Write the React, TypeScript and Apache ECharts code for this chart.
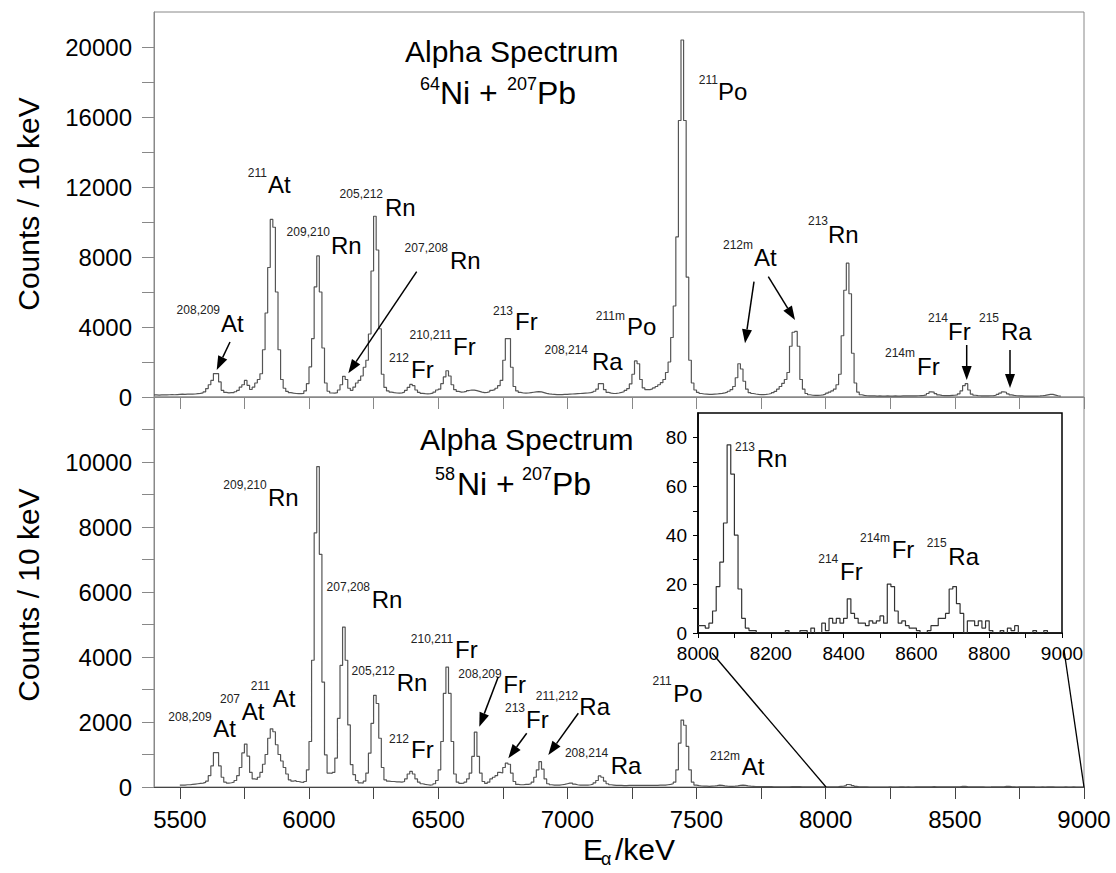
import React, { useEffect, useRef } from 'react';
import * as echarts from 'echarts';

// ---------------- data (counts per 10 keV bin) ----------------
const BIN = 10;

// 64Ni + 207Pb, bins starting at 5400 keV
const topStart = 5400;
const topCounts = [
  120, 110, 120, 130, 120, 130, 140, 130, 140, 150, // 5400
  160, 150, 160, 170, 160, 170, 190, 210, 240, 290, // 5500
  480, 700, 950, 1340, 1340, 860, 380, 260, 240, 250, // 5600
  250, 300, 380, 570, 700, 950, 670, 430, 560, 800, // 5700
  1000, 1330, 2700, 4800, 7400, 10150, 9700, 6000, 2700, 1000, // 5800
  500, 320, 250, 220, 200, 190, 190, 200, 350, 760, // 5900
  1720, 3340, 6290, 8060, 6000, 2800, 800, 330, 230, 220, // 6000
  250, 400, 700, 1180, 1000, 500, 380, 570, 800, 950, // 6100
  1200, 1700, 2100, 3600, 7200, 10330, 8400, 3900, 1300, 550, // 6200
  350, 280, 250, 230, 220, 240, 280, 380, 550, 720, // 6300
  650, 400, 260, 210, 190, 180, 190, 220, 280, 400, // 6400
  450, 760, 1150, 1500, 1200, 700, 420, 320, 280, 290, // 6500
  320, 370, 400, 390, 360, 320, 280, 250, 260, 300, // 6600
  380, 420, 500, 650, 950, 2100, 3340, 3340, 1700, 600, // 6700
  350, 260, 230, 220, 230, 250, 270, 290, 310, 290, // 6800
  250, 210, 180, 160, 150, 140, 140, 140, 150, 150, // 6900
  160, 170, 180, 190, 200, 210, 220, 230, 250, 280, // 7000
  330, 450, 760, 760, 420, 260, 220, 200, 210, 230, // 7100
  260, 300, 380, 480, 750, 1300, 2060, 1900, 1000, 520, // 7200
  420, 420, 460, 520, 600, 700, 820, 1000, 1400, 2000, // 7300
  3400, 5200, 9150, 15800, 20400, 15800, 6850, 2100, 800, 400, // 7400
  260, 200, 170, 160, 150, 150, 160, 170, 190, 210, // 7500
  240, 280, 330, 420, 600, 1100, 1900, 1600, 900, 450, // 7600
  250, 200, 170, 150, 140, 140, 150, 170, 200, 250, // 7700
  320, 450, 600, 780, 1000, 1400, 2900, 3700, 3750, 2900, // 7800
  1000, 450, 200, 130, 100, 90, 90, 100, 120, 160, // 7900
  220, 280, 350, 450, 700, 1300, 3500, 6100, 7650, 5900, // 8000
  2500, 800, 280, 130, 90, 70, 65, 60, 60, 55, // 8100
  60, 55, 55, 60, 55, 55, 60, 55, 55, 60, // 8200
  60, 60, 60, 65, 65, 70, 80, 90, 120, 200, // 8300
  290, 280, 190, 120, 90, 80, 80, 80, 90, 100, // 8400
  120, 180, 350, 650, 760, 400, 170, 100, 80, 70, // 8500
  70, 65, 65, 70, 80, 100, 150, 220, 290, 270, // 8600
  180, 120, 90, 70, 60, 60, 55, 55, 50, 50, // 8700
  55, 55, 60, 70, 90, 120, 150, 150, 110, 70, // 8800
  50, // 8900
];

// 58Ni + 207Pb, bins starting at 5500 keV (up to 7990)
const bottomStart = 5500;
const bottomCounts = [
  60, 60, 70, 70, 80, 90, 100, 110, 120, 140, // 5500
  180, 350, 650, 1060, 1060, 650, 300, 150, 120, 130, // 5600
  150, 200, 350, 600, 1050, 1320, 950, 450, 250, 230, // 5700
  300, 450, 700, 1000, 1500, 1790, 1700, 1300, 1000, 800, // 5800
  600, 400, 220, 180, 200, 170, 150, 140, 170, 530, // 5900
  1400, 3900, 7820, 9860, 7160, 3230, 990, 430, 420, 450, // 6000
  890, 2110, 3740, 4920, 3900, 1910, 690, 380, 200, 130, // 6100
  120, 180, 430, 1040, 1960, 2820, 2570, 1500, 600, 220, // 6200
  180, 170, 170, 160, 160, 150, 170, 250, 400, 480, // 6300
  400, 250, 150, 100, 80, 70, 60, 70, 100, 200, // 6400
  530, 1400, 2880, 3690, 2880, 1400, 400, 150, 110, 120, // 6500
  150, 250, 430, 940, 1690, 940, 430, 170, 110, 150, // 6600
  250, 300, 350, 450, 430, 600, 735, 700, 430, 170, // 6700
  80, 70, 70, 80, 80, 100, 150, 300, 530, 780, // 6800
  550, 250, 100, 70, 60, 60, 60, 70, 80, 100, // 6900
  120, 120, 90, 70, 60, 60, 60, 60, 70, 90, // 7000
  130, 200, 340, 300, 180, 100, 70, 60, 50, 50, // 7100
  50, 45, 45, 50, 50, 50, 50, 50, 50, 50, // 7200
  50, 50, 50, 50, 50, 55, 60, 60, 70, 80, // 7300
  100, 150, 530, 1350, 2060, 1900, 1250, 530, 150, 60, // 7400
  40, 30, 25, 25, 20, 25, 30, 40, 55, 50, // 7500
  35, 25, 20, 20, 25, 35, 50, 60, 50, 35, // 7600
  25, 20, 15, 15, 12, 12, 10, 10, 10, 8, // 7700
  8, 8, 6, 6, 6, 8, 10, 12, 14, 10, // 7800
  6, 5, 4, 4, 3, 3, 3, 2, 3, 3, // 7900
];

// 58Ni + 207Pb, 8000-9000 keV (inset, also the tail of the lower spectrum)
const insetStart = 8000;
const insetCounts = [
  3, 3, 2, 4, 9, 19, 29, 45, 77, 65, // 8000
  40, 18, 6, 2, 1, 1, 0, 0, 0, 0, // 8100
  0, 0, 0, 0, 1, 0, 0, 0, 1, 1, // 8200
  0, 2, 0, 0, 4, 1, 6, 4, 6, 4, // 8300
  6, 14, 8, 6, 4, 4, 3, 5, 4, 5, // 8400
  7, 4, 20, 19, 9, 4, 5, 3, 2, 2, // 8500
  1, 0, 0, 1, 3, 3, 6, 6, 8, 18, // 8600
  19, 12, 8, 0, 5, 5, 3, 5, 2, 5, // 8700
  1, 0, 0, 1, 0, 2, 1, 3, 0, 0, // 8800
  0, 0, 1, 0, 0, 1, 0, 0, 0, 0, // 8900
];

// ticks and tick labels
const xTickValues = [5500, 5750, 6000, 6250, 6500, 6750, 7000, 7250, 7500, 7750, 8000, 8250, 8500, 8750, 9000];
const xLabelValues = [5500, 6000, 6500, 7000, 7500, 8000, 8500, 9000];
const topYTicks = [0, 2000, 4000, 6000, 8000, 10000, 12000, 14000, 16000, 18000, 20000];
const topYLabels = [0, 4000, 8000, 12000, 16000, 20000];
const botYTicks = [0, 1000, 2000, 3000, 4000, 5000, 6000, 7000, 8000, 9000, 10000, 11000];
const botYLabels = [0, 2000, 4000, 6000, 8000, 10000];
const insetXLabels = [8000, 8200, 8400, 8600, 8800, 9000];
const insetYTicks = [0, 10, 20, 30, 40, 50, 60, 70, 80];
const insetYLabels = [0, 20, 40, 60, 80];

// annotation texts: [superscript, element]
const topLabels: [string, string][] = [
  ['208,209', 'At'], ['211', 'At'], ['209,210', 'Rn'], ['205,212', 'Rn'], ['207,208', 'Rn'],
  ['212', 'Fr'], ['210,211', 'Fr'], ['213', 'Fr'], ['208,214', 'Ra'], ['211m', 'Po'],
  ['211', 'Po'], ['212m', 'At'], ['213', 'Rn'], ['214m', 'Fr'], ['214', 'Fr'], ['215', 'Ra'],
];
const bottomLabels: [string, string][] = [
  ['209,210', 'Rn'], ['207,208', 'Rn'], ['205,212', 'Rn'], ['208,209', 'At'], ['207', 'At'],
  ['211', 'At'], ['212', 'Fr'], ['210,211', 'Fr'], ['208,209', 'Fr'], ['213', 'Fr'],
  ['211,212', 'Ra'], ['208,214', 'Ra'], ['211', 'Po'], ['212m', 'At'],
];
const insetLabels: [string, string][] = [['213', 'Rn'], ['214', 'Fr'], ['214m', 'Fr'], ['215', 'Ra']];

// ---------------- layout (pixels) ----------------
const topLabelPos = [
  [220, 310, 221, 323.5], [267, 172.5, 268, 184.5], [330, 232, 331, 245], [383, 194, 385, 207],
  [448, 248, 450, 260], [409, 357.5, 411, 369], [452, 335, 453, 346], [513, 311, 515, 321],
  [588, 350, 592, 361.5], [625, 316, 627, 326.5], [718, 80, 718, 91.5], [753, 245, 754, 257],
  [828, 221, 828, 234], [915, 353, 917, 366], [948, 318, 948, 331], [999, 318, 1001, 331],
];
const bottomLabelPos = [
  [266.7, 485, 268, 497], [370, 586.7, 371.7, 599], [395, 671, 396.7, 682.5], [211.7, 716.7, 213.3, 728],
  [240, 699, 241.7, 711.7], [270, 686, 272.7, 698], [409, 738.5, 411, 749], [453.3, 639, 455, 649],
  [501.7, 674, 503.3, 684.7], [525, 707.5, 526, 719], [578.3, 696, 579.3, 706], [608.3, 752.5, 610.7, 765],
  [671.7, 681, 673.3, 693], [740, 756, 741.7, 766],
];
const insetLabelPos = [
  [755, 447, 756.7, 458], [838.3, 558.5, 840, 571], [890, 537.5, 891.7, 549.5], [946.7, 543, 948.3, 556],
];
const arrows = [
  [230, 342, 216.7, 370], [416.7, 271.7, 348.3, 373.3], [754, 281.7, 745, 343.3], [768.3, 276.7, 795, 320],
  [966.7, 345, 966.7, 380], [1010, 350, 1010, 388],
  [498.3, 676.7, 479.3, 726.7], [526.7, 733.3, 508.3, 758.3], [578.3, 713.3, 548.3, 755],
];
const zoomLines = [[712, 653, 826, 787], [1064, 650, 1084, 787]];

const FONT = '"Liberation Sans", Arial, Helvetica, sans-serif';

function stepData(start: number, counts: number[]) {
  const d = counts.map((c, i) => [start + i * BIN, c]);
  d.push([start + counts.length * BIN, counts[counts.length - 1]]);
  return d;
}

function txt(text: string, x: number, y: number, size: number, align = 'left', fill = '#000', rotation = 0) {
  return {
    type: 'text',
    x,
    y,
    rotation,
    z: 100,
    silent: true,
    style: {
      text,
      fontSize: size,
      fontFamily: FONT,
      fill,
      align,
      textAlign: align,
      verticalAlign: 'middle',
      textVerticalAlign: 'middle',
    },
  };
}

function supLabels(labels: [string, string][], pos: number[][]) {
  const out: any[] = [];
  labels.forEach((l, i) => {
    const p = pos[i];
    out.push(txt(l[0], p[0], p[1], 12, 'right', '#222'));
    out.push(txt(l[1], p[2], p[3], 24, 'left', '#000'));
  });
  return out;
}

function arrow(a: number[]) {
  const [x1, y1, x2, y2] = a;
  const dx = x2 - x1;
  const dy = y2 - y1;
  const len = Math.sqrt(dx * dx + dy * dy);
  const ux = dx / len;
  const uy = dy / len;
  const L = 14;
  const W = 5;
  const bx = x2 - ux * L;
  const by = y2 - uy * L;
  return [
    { type: 'line', z: 100, silent: true, shape: { x1, y1, x2: bx, y2: by }, style: { stroke: '#000', lineWidth: 1.5 } },
    {
      type: 'polygon',
      z: 100,
      silent: true,
      shape: { points: [[x2, y2], [bx - uy * W, by + ux * W], [bx + uy * W, by - ux * W]] },
      style: { fill: '#000' },
    },
  ];
}

const plain = (v: number) => String(v);

export default function App() {
  const ref = useRef<HTMLDivElement>(null);
  useEffect(() => {
    if (!ref.current) return;
    const chart = echarts.init(ref.current, undefined, { renderer: 'svg' });

    const axisLabelStyle = { fontSize: 24, fontFamily: FONT, color: '#000', formatter: plain };
    const frame = '#888';

    const graphics: any[] = [];
    graphics.push(txt('Counts / 10 keV', 28, 204, 30, 'center', '#000', Math.PI / 2));
    graphics.push(txt('Counts / 10 keV', 28, 595, 30, 'center', '#000', Math.PI / 2));
    graphics.push(txt('Alpha Spectrum', 405, 51, 30));
    graphics.push(txt('64', 440, 84, 18, 'right'));
    graphics.push(txt('Ni +', 440, 93, 32));
    graphics.push(txt('207', 537, 84, 18, 'right'));
    graphics.push(txt('Pb', 537, 93, 32));
    graphics.push(txt('Alpha Spectrum', 420, 439, 30));
    graphics.push(txt('58', 455, 474, 18, 'right'));
    graphics.push(txt('Ni +', 457, 484, 32));
    graphics.push(txt('207', 552, 474, 18, 'right'));
    graphics.push(txt('Pb', 552, 484, 32));
    graphics.push(txt('E', 583, 849, 30));
    graphics.push(txt('α', 601, 859, 18));
    graphics.push(txt('/keV', 615, 849, 30));
    graphics.push(...supLabels(topLabels, topLabelPos));
    graphics.push(...supLabels(bottomLabels, bottomLabelPos));
    graphics.push(...supLabels(insetLabels, insetLabelPos));
    arrows.forEach((a) => graphics.push(...arrow(a)));
    zoomLines.forEach(([x1, y1, x2, y2]) =>
      graphics.push({ type: 'line', z: 100, silent: true, shape: { x1, y1, x2, y2 }, style: { stroke: '#000', lineWidth: 1.3 } })
    );

    const option: any = {
      animation: false,
      backgroundColor: '#fff',
      grid: [
        { left: 154, top: 12, width: 930, height: 385, show: true, borderColor: frame, borderWidth: 1 },
        { left: 154, top: 397, width: 930, height: 390, show: true, borderColor: frame, borderWidth: 1 },
        { left: 698, top: 413, width: 364, height: 220, show: true, borderColor: '#000', borderWidth: 1.5, backgroundColor: '#fff' },
      ],
      xAxis: [
        {
          type: 'value', gridIndex: 0, min: 5400, max: 9000,
          axisLine: { show: true, lineStyle: { color: frame } },
          axisTick: { show: true, inside: false, length: 12, customValues: xTickValues, lineStyle: { color: frame } },
          axisLabel: { show: false },
          splitLine: { show: false },
        },
        {
          type: 'value', gridIndex: 1, min: 5400, max: 9000,
          axisLine: { show: true, lineStyle: { color: '#444' } },
          axisTick: { show: true, inside: false, length: 12, customValues: xTickValues, lineStyle: { color: '#444' } },
          axisLabel: { ...axisLabelStyle, margin: 20, customValues: xLabelValues },
          splitLine: { show: false },
        },
        {
          type: 'value', gridIndex: 2, min: 8000, max: 9000, interval: 100,
          axisLine: { show: true, lineStyle: { color: '#000', width: 1.5 } },
          axisTick: { show: true, inside: false, length: 5, lineStyle: { color: '#000' } },
          axisLabel: { fontSize: 19, fontFamily: FONT, color: '#000', margin: 11, customValues: insetXLabels, formatter: plain },
          splitLine: { show: false },
        },
      ],
      yAxis: [
        {
          type: 'value', gridIndex: 0, min: 0, max: 22000,
          axisLine: { show: true, lineStyle: { color: frame } },
          axisTick: { show: true, inside: false, length: 12, customValues: topYTicks, lineStyle: { color: frame } },
          axisLabel: { ...axisLabelStyle, margin: 22, customValues: topYLabels },
          splitLine: { show: false },
        },
        {
          type: 'value', gridIndex: 1, min: 0, max: 12000,
          axisLine: { show: true, lineStyle: { color: frame } },
          axisTick: { show: true, inside: false, length: 12, customValues: botYTicks, lineStyle: { color: frame } },
          axisLabel: { ...axisLabelStyle, margin: 22, customValues: botYLabels },
          splitLine: { show: false },
        },
        {
          type: 'value', gridIndex: 2, min: 0, max: 90,
          axisLine: { show: true, lineStyle: { color: '#000', width: 1.5 } },
          axisTick: { show: true, inside: false, length: 5, customValues: insetYTicks, lineStyle: { color: '#000' } },
          axisLabel: { fontSize: 19, fontFamily: FONT, color: '#000', margin: 11, customValues: insetYLabels, formatter: plain },
          splitLine: { show: false },
        },
      ],
      series: [
        {
          type: 'line', xAxisIndex: 0, yAxisIndex: 0, step: 'end', symbol: 'none', silent: true,
          data: stepData(topStart, topCounts), lineStyle: { color: '#555', width: 1.2 },
        },
        {
          type: 'line', xAxisIndex: 1, yAxisIndex: 1, step: 'end', symbol: 'none', silent: true,
          data: stepData(bottomStart, bottomCounts.concat(insetCounts)), lineStyle: { color: '#555', width: 1.2 },
        },
        {
          type: 'line', xAxisIndex: 2, yAxisIndex: 2, step: 'end', symbol: 'none', silent: true, z: 5,
          data: stepData(insetStart, insetCounts), lineStyle: { color: '#333', width: 1.2 },
        },
      ],
      graphic: { elements: graphics },
    };
    chart.setOption(option);
    return () => chart.dispose();
  }, []);

  return (
    <div
      ref={ref}
      style={{ position: 'absolute', left: 0, top: 0, width: 1116, height: 873, background: '#fff' }}
    />
  );
}
